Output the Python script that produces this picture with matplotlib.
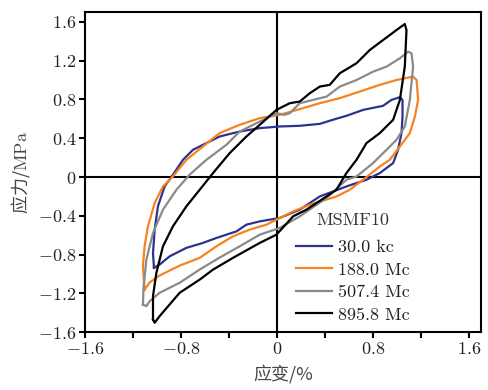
import matplotlib
matplotlib.use("Agg")
import matplotlib.pyplot as plt

plt.rcParams['mathtext.fontset'] = 'cm'
plt.rcParams['font.family'] = ['cmr10', 'Noto Sans CJK SC', 'DejaVu Serif']
plt.rcParams['axes.formatter.use_mathtext'] = True

# Strain (%) / stress (MPa) hysteresis loops
blue_x = [-1.025, -1.033, -1.019, -0.992, -0.936, -0.867, -0.783, -0.70, -0.617, -0.478, -0.311, -0.144, 0.022,
          0.189, 0.356, 0.464, 0.578, 0.717, 0.883, 0.953, 1.023, 1.045, 1.045, 1.037, 1.008, 0.967, 0.856,
          0.745, 0.578, 0.356, 0.189, 0.022, -0.144, -0.255, -0.338, -0.505, -0.617, -0.755, -0.894, -0.978, -1.025]
blue_y = [-0.936, -0.782, -0.542, -0.302, -0.097, 0.024, 0.178, 0.281, 0.332, 0.418, 0.469, 0.504, 0.521,
          0.528, 0.548, 0.590, 0.631, 0.692, 0.734, 0.795, 0.823, 0.795, 0.623, 0.456, 0.281, 0.144, 0.041,
          -0.028, -0.097, -0.20, -0.336, -0.422, -0.457, -0.491, -0.56, -0.628, -0.679, -0.73, -0.817, -0.902, -0.936]

orange_x = [-1.103, -1.117, -1.103, -1.075, -1.019, -0.95, -0.867, -0.755, -0.617, -0.478, -0.311, -0.144, 0.022,
            0.189, 0.356, 0.523, 0.689, 0.856, 0.995, 1.133, 1.162, 1.175, 1.148, 1.106, 1.023, 0.939, 0.856,
            0.717, 0.606, 0.495, 0.273, 0.134, 0.022, -0.088, -0.228, -0.367, -0.505, -0.644, -0.811, -0.978,
            -1.061, -1.103]
orange_y = [-1.16, -0.92, -0.714, -0.508, -0.267, -0.097, 0.006, 0.178, 0.315, 0.453, 0.538, 0.607, 0.641,
            0.70, 0.761, 0.813, 0.881, 0.950, 1.0, 1.035, 1.0, 0.795, 0.623, 0.453, 0.315, 0.178, 0.109,
            -0.028, -0.131, -0.20, -0.285, -0.354, -0.422, -0.491, -0.542, -0.611, -0.714, -0.833, -0.913, -1.015,
            -1.087, -1.16]

gray_x = [-1.117, -1.111, -1.088, -1.033, -0.95, -0.838, -0.728, -0.588, -0.422, -0.311, -0.144, -0.005, 0.064,
          0.106, 0.189, 0.30, 0.412, 0.523, 0.662, 0.80, 0.912, 1.023, 1.092, 1.12, 1.133, 1.106, 1.064, 0.995,
          0.912, 0.80, 0.662, 0.578, 0.412, 0.189, 0.022, -0.144, -0.311, -0.478, -0.644, -0.811, -0.978,
          -1.061, -1.088, -1.117]
gray_y = [-1.314, -1.126, -0.851, -0.576, -0.336, -0.131, 0.024, 0.178, 0.332, 0.469, 0.572, 0.658, 0.641,
          0.658, 0.761, 0.795, 0.829, 0.932, 1.0, 1.086, 1.138, 1.224, 1.292, 1.276, 1.138, 0.795, 0.521, 0.384,
          0.281, 0.144, 0.006, -0.028, -0.216, -0.405, -0.525, -0.594, -0.714, -0.83, -0.953, -1.09, -1.193,
          -1.28, -1.331, -1.314]

black_x = [-1.033, -1.033, -1.005, -0.95, -0.867, -0.755, -0.644, -0.533, -0.394, -0.255, -0.144, -0.005, 0.106,
           0.189, 0.273, 0.356, 0.439, 0.523, 0.662, 0.773, 0.883, 0.995, 1.064, 1.078, 1.064, 1.023, 0.967,
           0.856, 0.745, 0.662, 0.578, 0.495, 0.412, 0.245, 0.134, -0.005, -0.144, -0.367, -0.533, -0.644,
           -0.811, -0.978, -1.019, -1.033]
black_y = [-1.468, -1.228, -0.988, -0.714, -0.508, -0.302, -0.131, 0.041, 0.247, 0.418, 0.538, 0.692, 0.761,
           0.778, 0.864, 0.932, 0.95, 1.07, 1.173, 1.31, 1.412, 1.515, 1.577, 1.515, 1.138, 0.795, 0.59,
           0.453, 0.35, 0.178, 0.041, -0.131, -0.20, -0.336, -0.405, -0.594, -0.679, -0.833, -0.954, -1.057,
           -1.193, -1.434, -1.502, -1.468]

labels = ['30.0 kc', '188.0 Mc', '507.4 Mc', '895.8 Mc']
colors = ['#2b3390', '#f7821f', '#8a8a8a', '#000000']
ticks = [-1.6, -1.2, -0.8, -0.4, 0, 0.4, 0.8, 1.2, 1.6]
xticklabels = ['$-1.6$', '', '$-0.8$', '', '$0$', '', '$0.8$', '', '$1.6$']
yticklabels = ['$-1.6$', '$-1.2$', '$-0.8$', '$-0.4$', '$0$', '$0.4$', '$0.8$', '$1.2$', '$1.6$']

fig = plt.figure(figsize=(4.88, 3.90), dpi=100)
ax = fig.add_axes([0.174, 0.148, 0.812, 0.821])

ax.axhline(0, color='black', lw=1.5, zorder=1)
ax.axvline(0, color='black', lw=1.5, zorder=1)

series = [(blue_x, blue_y), (orange_x, orange_y), (gray_x, gray_y), (black_x, black_y)]
for (xs, ys), lab, c in zip(series, labels, colors):
    ax.plot(xs, ys, color=c, lw=1.6, label=lab, zorder=2)

ax.set_xlim(-1.6, 1.7)
ax.set_ylim(-1.6, 1.7)
ax.set_xticks(ticks)
ax.set_xticklabels(xticklabels)
ax.set_yticks(ticks)
ax.set_yticklabels(yticklabels)
ax.tick_params(direction='out', length=4, width=1.5, labelsize=13, colors='black', labelcolor='#222222', pad=2)
for s in ax.spines.values():
    s.set_linewidth(1.5)

ax.set_xlabel('应变/%', fontsize=13, color='#444444', family=['Noto Sans CJK SC', 'DejaVu Serif'], labelpad=6)
ax.set_ylabel('应力/$\\mathrm{MPa}$', fontsize=13, color='#444444', family=['Noto Sans CJK SC', 'DejaVu Serif'], labelpad=4)

leg = ax.legend(title='MSMF10', loc='upper left', bbox_to_anchor=(0.515, 0.395), frameon=False,
                fontsize=13, title_fontsize=13, handlelength=2.0, handletextpad=0.3, labelspacing=0.38,
                borderaxespad=0)
leg._legend_box.sep = 8
for t in leg.get_texts():
    t.set_color('#222222')
leg.get_title().set_color('#333333')

fig.savefig('out.png', dpi=100)
